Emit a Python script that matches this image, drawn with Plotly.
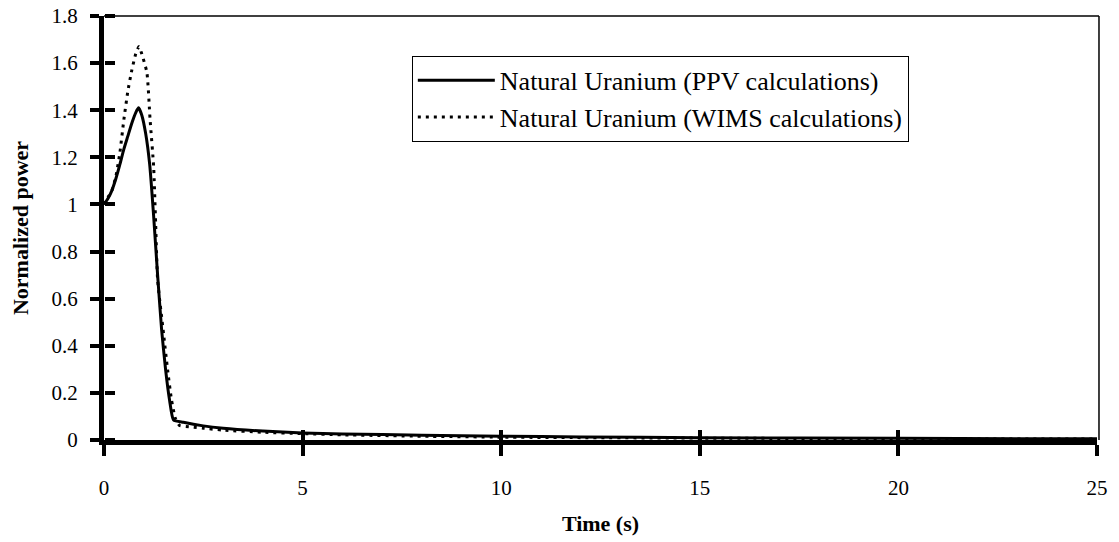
import plotly.graph_objects as go

# ---- data ----
ppv_t = [0, 0.1, 0.2, 0.3, 0.4, 0.5, 0.6, 0.7, 0.8, 0.87, 0.95, 1.05, 1.15, 1.25, 1.35, 1.45,
         1.55, 1.65, 1.75, 2.0, 2.5, 3, 4, 5, 6, 8, 10, 12, 15, 20, 25]
ppv_v = [1.0, 1.025, 1.06, 1.11, 1.17, 1.235, 1.29, 1.345, 1.39, 1.41, 1.38, 1.30, 1.17, 0.95,
         0.70, 0.47, 0.30, 0.17, 0.085, 0.075, 0.06, 0.05, 0.038, 0.03, 0.026, 0.02, 0.016,
         0.013, 0.01, 0.007, 0.005]

wims_t = [0, 0.1, 0.2, 0.3, 0.4, 0.5, 0.6, 0.7, 0.8, 0.88, 0.95, 1.08, 1.16, 1.25, 1.30, 1.35,
          1.5, 1.6, 1.7, 1.8, 1.9, 2.2, 2.5, 3, 4, 5, 6, 8, 10, 12, 15, 20, 25]
wims_v = [1.0, 1.03, 1.06, 1.12, 1.22, 1.36, 1.48, 1.57, 1.64, 1.67, 1.64, 1.56, 1.36, 1.16,
          0.92, 0.68, 0.45, 0.30, 0.17, 0.09, 0.062, 0.055, 0.05, 0.042, 0.033, 0.027, 0.022,
          0.016, 0.012, 0.01, 0.008, 0.005, 0.004]

x_ticks = [0, 5, 10, 15, 20, 25]
y_ticks = [0, 0.2, 0.4, 0.6, 0.8, 1.0, 1.2, 1.4, 1.6, 1.8]
y_tick_text = ["0", "0.2", "0.4", "0.6", "0.8", "1", "1.2", "1.4", "1.6", "1.8"]

series_names = ["Natural Uranium (PPV calculations)", "Natural Uranium (WIMS calculations)"]

FONT = "Liberation Serif"

fig = go.Figure()
fig.add_trace(go.Scatter(x=ppv_t, y=ppv_v, mode="lines", name=series_names[0],
                         legendgroup="a",
                         line=dict(color="black", width=3, shape="spline", smoothing=0.5)))
fig.add_trace(go.Scatter(x=wims_t, y=wims_v, mode="lines", name=series_names[1],
                         legendgroup="b",
                         line=dict(color="black", width=3, dash="3px,5px", shape="spline",
                                   smoothing=0.5)))

# invisible helper traces that activate the overlay axes (inner half of the crossing ticks)
fig.add_trace(go.Scatter(x=[0, 25], y=[0, 1.8], xaxis="x2", yaxis="y", mode="markers",
                         marker=dict(opacity=0), showlegend=False, hoverinfo="skip"))
fig.add_trace(go.Scatter(x=[0, 25], y=[0, 1.8], xaxis="x", yaxis="y2", mode="markers",
                         marker=dict(opacity=0), showlegend=False, hoverinfo="skip"))

axis_font = dict(family=FONT, size=21, color="black")

fig.update_layout(
    width=1119, height=542,
    margin=dict(l=104, r=22, t=16, b=102, autoexpand=False),
    paper_bgcolor="white", plot_bgcolor="white",
    font=dict(family=FONT, color="black"),
    showlegend=True,
    legend=dict(
        x=0.310, y=0.906, xanchor="left", yanchor="top",
        bgcolor="white", bordercolor="black", borderwidth=1,
        font=dict(family=FONT, size=26, color="black"),
        itemwidth=77, tracegroupgap=0,
    ),
    xaxis=dict(
        range=[0, 25], tickvals=x_ticks, ticks="outside", ticklen=11, tickwidth=4,
        tickcolor="black", showline=True, linecolor="black", linewidth=5,
        showgrid=False, zeroline=False, tickfont=axis_font, ticklabelstandoff=14,
        automargin=False,
        title=dict(text="<b>Time (s)</b>", font=dict(family=FONT, size=22, color="black"),
                   standoff=18),
    ),
    yaxis=dict(
        range=[0, 1.8], tickvals=y_ticks, ticktext=y_tick_text, ticks="outside", ticklen=9,
        tickwidth=4, tickcolor="black", showline=True, linecolor="black", linewidth=5,
        showgrid=False, zeroline=False, tickfont=axis_font, ticklabelstandoff=8,
        automargin=False,
        title=dict(text="<b>Normalized power</b>", font=dict(family=FONT, size=22, color="black"),
                   standoff=18),
    ),
    xaxis2=dict(range=[0, 25], tickvals=x_ticks, ticks="inside", ticklen=10, tickwidth=4,
                tickcolor="black", showticklabels=False, showline=False, showgrid=False,
                zeroline=False, overlaying="x", side="bottom", anchor="y", automargin=False),
    yaxis2=dict(range=[0, 1.8], tickvals=y_ticks, ticks="outside", ticklen=10, tickwidth=4,
                tickcolor="black", showticklabels=False, showline=False, showgrid=False,
                zeroline=False, overlaying="y", side="right", anchor="free", position=0,
                automargin=False),
    shapes=[
        dict(type="line", xref="paper", yref="paper", x0=0, x1=1.002, y0=1, y1=1,
             line=dict(color="black", width=1.5)),
        dict(type="line", xref="paper", yref="paper", x0=1.002, x1=1.002, y0=0, y1=1,
             line=dict(color="black", width=1.5)),
    ],
)

fig.write_html("out.html")
